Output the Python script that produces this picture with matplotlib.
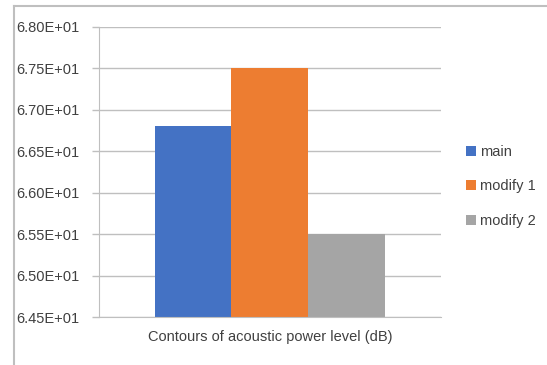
import matplotlib.pyplot as plt
from matplotlib.lines import Line2D

plt.rcParams['font.family'] = ['Liberation Sans', 'DejaVu Sans']

category = 'Contours of acoustic power level (dB)'
series = ['main', 'modify 1', 'modify 2']
values = [66.8, 67.5, 65.5]
colors = ['#4472C4', '#ED7D31', '#A5A5A5']
yticks = [64.5, 65.0, 65.5, 66.0, 66.5, 67.0, 67.5, 68.0]

fig = plt.figure(figsize=(5.47, 3.65), dpi=100)
ax = fig.add_axes([0.181, 0.1315, 0.625, 0.795])

# outer chart frame (top and left edges visible)
fig.add_artist(Line2D([14/547, 1], [1 - 6/365, 1 - 6/365], color='#BFBFBF', lw=1.5))
fig.add_artist(Line2D([14/547, 14/547], [0, 1 - 6/365], color='#BFBFBF', lw=1.5))

w = 0.225
offsets = [-w, 0, w]
for name, v, c, off in zip(series, values, colors, offsets):
    ax.bar(off, v - yticks[0], bottom=yticks[0], width=w, color=c, label=name, zorder=3)

ax.set_xlim(-0.5, 0.5)
ax.set_ylim(yticks[0], yticks[-1])
ax.set_yticks(yticks)
ax.set_yticklabels(['%.2fE+01' % (t / 10) for t in yticks], fontsize=10.5, color='#404040')
ax.set_xticks([0])
ax.set_xticklabels([category], fontsize=10.5, color='#404040')
ax.tick_params(axis='x', length=0, pad=9)
ax.tick_params(axis='y', length=5, color='#BFBFBF', width=1, pad=9)
ax.grid(axis='y', color='#BFBFBF', lw=1, zorder=0)
for s in ['top', 'right']:
    ax.spines[s].set_visible(False)
ax.spines['left'].set_color('#BFBFBF')
ax.spines['bottom'].set_color('#BFBFBF')
ax.spines['bottom'].set_zorder(4)

leg = ax.legend(loc='center left', bbox_to_anchor=(1.0, 0.45), frameon=False,
                fontsize=10.5, handlelength=0.7, handleheight=0.7,
                handletextpad=0.3, labelspacing=1.4, borderaxespad=1.3)
for t in leg.get_texts():
    t.set_color('#404040')

fig.savefig('out.png', dpi=100)
